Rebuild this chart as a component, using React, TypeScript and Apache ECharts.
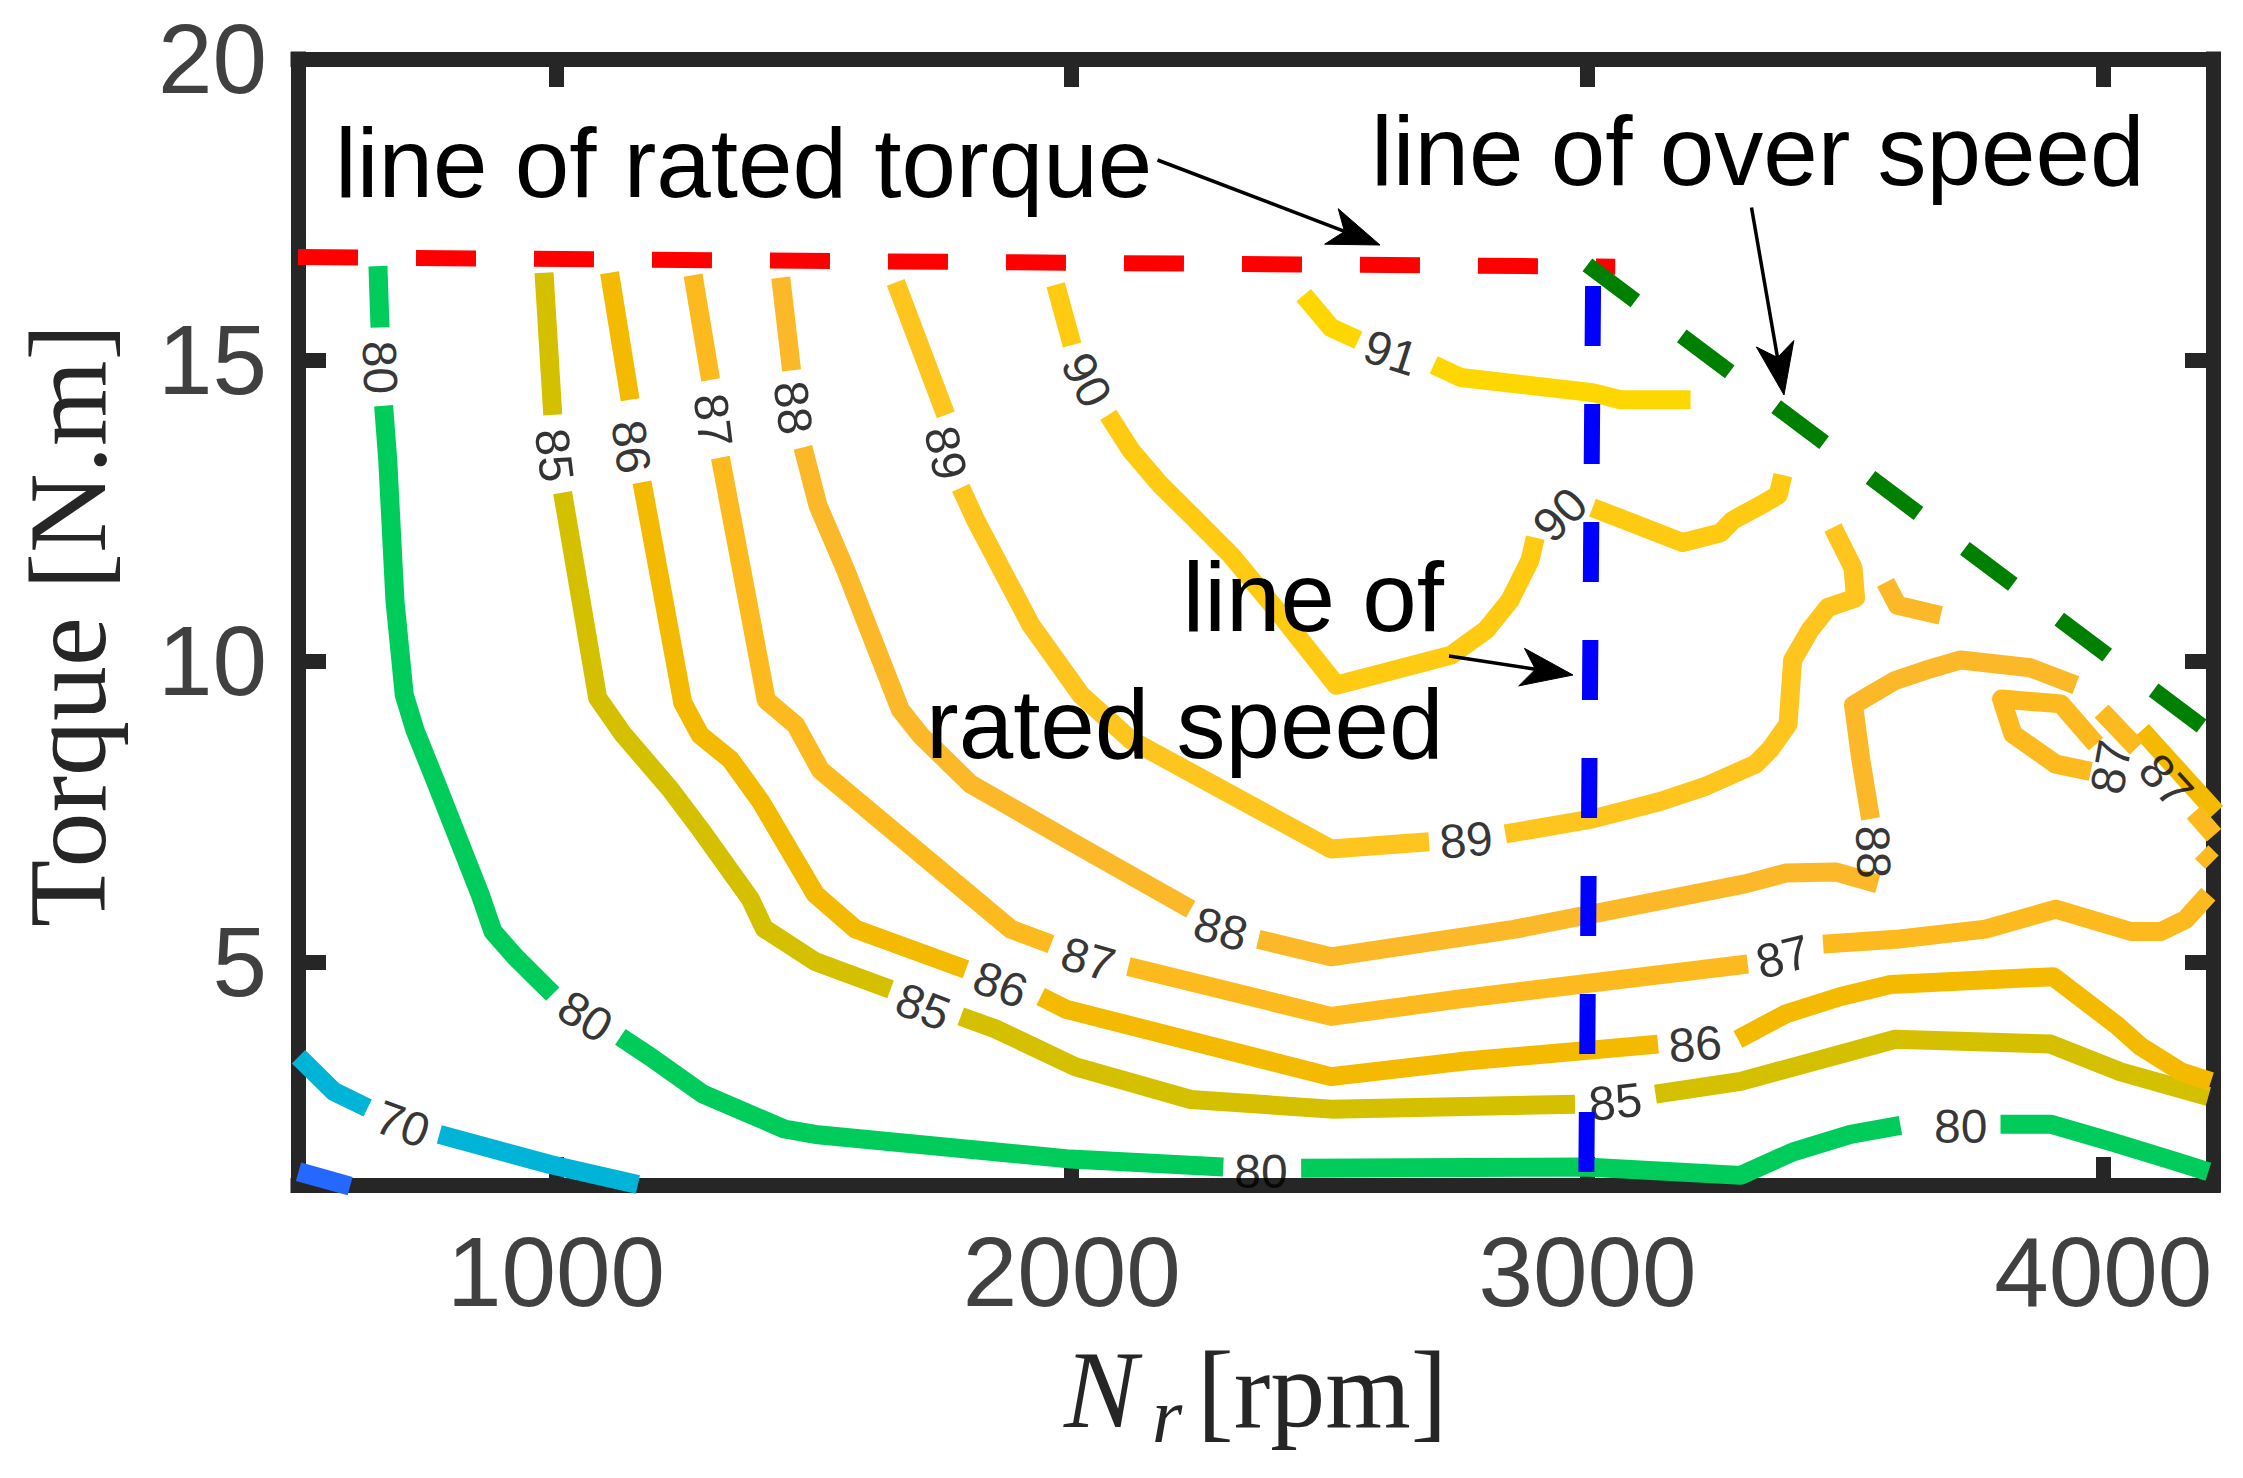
import React, { useEffect, useRef } from 'react';
import * as echarts from 'echarts';

// ---------- axes ----------
const X_MIN = 500;
const X_MAX = 4213;
const Y_MIN = 1.3;
const Y_MAX = 20;
const xTicks = [1000, 2000, 3000, 4000];
const yTicks = [5, 10, 15, 20];

// ---------- contour lines (rpm, torque); each inner array is one unbroken piece ----------
const c60 = [[[501, 1.52], [601, 1.28]]];
const c70 = [
  [[501, 3.43], [570, 2.85], [635, 2.58]],
  [[774, 2.14], [989, 1.64], [1159, 1.31]],
];
const c80 = [
  [[655, 16.56], [659, 15.54]],
  [[666, 14.24], [674, 13.34], [688, 11.0], [706, 9.44], [727, 8.85], [766, 8.02], [853, 6.13], [878, 5.51], [921, 5.09], [994, 4.47]],
  [[1125, 3.76], [1183, 3.43], [1285, 2.81], [1443, 2.23], [1503, 2.14], [1998, 1.73], [2294, 1.6]],
  [[2445, 1.58], [2996, 1.6], [3297, 1.46], [3399, 1.85], [3510, 2.14], [3607, 2.29]],
  [[3801, 2.31], [3898, 2.31], [4015, 2.02], [4141, 1.69], [4204, 1.52]],
];
const c85 = [
  [[977, 16.45], [994, 14.09]],
  [[1013, 12.8], [1081, 9.39], [1130, 8.79], [1222, 7.87], [1280, 7.21], [1377, 6.05], [1404, 5.56], [1503, 5.01], [1649, 4.55]],
  [[1785, 4.1], [1853, 3.89], [2008, 3.26], [2231, 2.72], [2503, 2.56], [2976, 2.64]],
  [[3132, 2.81], [3297, 3.02], [3597, 3.72], [3898, 3.64], [4034, 3.18], [4204, 2.77]],
];
const c86 = [
  [[1104, 16.45], [1144, 14.34]],
  [[1167, 12.97], [1246, 9.31], [1280, 8.77], [1338, 8.37], [1397, 7.67], [1503, 6.13], [1581, 5.55], [1795, 4.88]],
  [[1940, 4.43], [1989, 4.22], [2503, 3.1], [2753, 3.35], [3137, 3.64]],
  [[3292, 3.72], [3384, 4.14], [3491, 4.43], [3588, 4.63], [3903, 4.76], [4024, 3.97], [4073, 3.6], [4151, 3.18], [4209, 3.02]],
  [[4075, 8.85], [4219, 7.49]],
];
const c87 = [
  [[1266, 16.41], [1300, 14.67]],
  [[1319, 13.38], [1408, 9.35], [1465, 8.94], [1513, 8.19], [1882, 5.55], [1960, 5.3]],
  [[2110, 4.93], [2503, 4.1], [2753, 4.39], [3311, 4.97]],
  [[3457, 5.3], [3598, 5.38], [3772, 5.55], [3908, 5.88], [4054, 5.51], [4112, 5.51], [4160, 5.71], [4204, 6.13]],
  [[3986, 8.62], [3918, 9.29], [3803, 9.37], [3825, 8.79], [3908, 8.29], [3976, 8.17]],
  [[3997, 9.17], [4065, 8.56]],
  [[4176, 7.49], [4215, 7.11]],
  [[4191, 6.83], [4211, 6.66]],
];
const c88 = [
  [[1436, 16.37], [1457, 14.83]],
  [[1479, 13.55], [1508, 12.59], [1562, 11.51], [1668, 9.19], [1707, 8.77], [1804, 7.96], [2008, 6.96], [2231, 5.88]],
  [[2362, 5.38], [2503, 5.09], [2860, 5.55], [3306, 6.3], [3384, 6.48], [3481, 6.5], [3563, 6.3]],
  [[3549, 7.38], [3530, 8.37], [3516, 9.27], [3539, 9.39], [3597, 9.68], [3656, 9.85], [3724, 10.02], [3859, 9.89], [3947, 9.6]],
  [[3578, 11.31], [3601, 10.93], [3685, 10.76]],
];
const c89 = [
  [[1659, 16.29], [1756, 14.09]],
  [[1785, 12.88], [1814, 12.34], [1921, 10.6], [2018, 9.44], [2115, 8.69], [2503, 6.88], [2693, 7.0]],
  [[2841, 7.13], [3010, 7.38], [3141, 7.67], [3229, 7.92], [3326, 8.29], [3355, 8.54], [3389, 8.95], [3398, 10.02], [3432, 10.52], [3466, 10.89], [3520, 11.05], [3515, 11.55], [3476, 12.22]],
];
const c90 = [
  [[1969, 16.25], [2001, 15.25]],
  [[2071, 14.09], [2115, 13.5], [2173, 12.92], [2231, 12.43], [2309, 11.76], [2406, 10.76], [2513, 9.6], [2736, 10.1], [2804, 10.52], [2850, 11.01], [2889, 11.68], [2899, 12.05]],
  [[3010, 12.55], [3185, 11.97], [3258, 12.13], [3282, 12.34], [3336, 12.59], [3370, 12.76], [3379, 13.09]],
];
const c91 = [
  [[2450, 16.08], [2503, 15.54], [2556, 15.33]],
  [[2702, 14.92], [2755, 14.71], [3010, 14.46], [3064, 14.34], [3200, 14.34]],
];

// ---------- contour labels (rpm, torque, text angle in degrees) ----------
const l70 = [[703, 2.31, -20]];
const l80 = [[659, 14.88, -88], [1057, 4.1, -32], [2367, 1.52, 0], [3724, 2.27, 0]];
const l85 = [[997, 13.42, -83], [1712, 4.26, -21], [3054, 2.68, 6]];
const l86 = [[1146, 13.56, -82], [1862, 4.63, -20], [3209, 3.64, 4]];
const l87 = [[1305, 14.0, -83], [2032, 5.05, -16], [3379, 5.09, 14], [4015, 8.24, 80], [4122, 8.01, -48]];
const l88 = [[1460, 14.21, -83], [2289, 5.55, -15], [3554, 6.83, -88]];
const l89 = [[1756, 13.46, -78], [2765, 7.03, 5]];
const l90 = [[2029, 14.67, -63], [2947, 12.43, 45]];
const l91 = [[2619, 15.12, -18]];

// ---------- reference lines ----------
const ratedTorqueLine = [[500, 16.71], [3054, 16.55]];
const ratedSpeedLine = [[3011, 16.23], [2998, 1.5]];
const overSpeedLine = [[3000, 16.58], [4213, 8.78]];

const levels = [
  { level: 60, segs: c60, labels: [] as number[][] },
  { level: 70, segs: c70, labels: l70 },
  { level: 80, segs: c80, labels: l80 },
  { level: 85, segs: c85, labels: l85 },
  { level: 86, segs: c86, labels: l86 },
  { level: 87, segs: c87, labels: l87 },
  { level: 88, segs: c88, labels: l88 },
  { level: 89, segs: c89, labels: l89 },
  { level: 90, segs: c90, labels: l90 },
  { level: 91, segs: c91, labels: l91 },
];

const levelColors: Record<number, string> = {
  60: '#2468FF',
  70: '#00B4D8',
  80: '#00CC5C',
  85: '#D5C000',
  86: '#F3BA00',
  87: '#FDBA1E',
  88: '#FBB92A',
  89: '#FEC51F',
  90: '#FFCA12',
  91: '#FFD700',
};

const SANS = '"Liberation Sans", Arial, Helvetica, sans-serif';
const SERIF = '"Liberation Serif", "Times New Roman", serif';
const FRAME = '#262626';

function arrow(x0: number, y0: number, x1: number, y1: number) {
  const dx = x1 - x0;
  const dy = y1 - y0;
  const len = Math.hypot(dx, dy);
  const ux = dx / len;
  const uy = dy / len;
  const nx = -uy;
  const ny = ux;
  const headLen = 52;
  const halfW = 19;
  const notch = 38;
  const bx = x1 - ux * headLen;
  const by = y1 - uy * headLen;
  const qx = x1 - ux * notch;
  const qy = y1 - uy * notch;
  return [
    {
      type: 'line',
      shape: { x1: x0, y1: y0, x2: qx, y2: qy },
      style: { stroke: '#000', lineWidth: 3.5 },
      z: 10,
    },
    {
      type: 'polygon',
      shape: {
        points: [
          [x1, y1],
          [bx + nx * halfW, by + ny * halfW],
          [qx, qy],
          [bx - nx * halfW, by - ny * halfW],
        ],
      },
      style: { fill: '#000', stroke: '#000', lineWidth: 1 },
      z: 10,
    },
  ];
}

function txt(text: string, x: number, y: number, font: string, fill = '#000', rotation = 0, align = 'left') {
  return {
    type: 'text',
    x,
    y,
    rotation,
    z: 10,
    style: {
      text,
      x: 0,
      y: 0,
      font,
      fill,
      align,
      verticalAlign: 'middle',
      textAlign: align,
      textVerticalAlign: 'middle',
    },
  };
}

function buildOption() {
  const series: any[] = [];
  levels.forEach((lv) => {
    lv.segs.forEach((seg) => {
      series.push({
        type: 'line',
        data: seg,
        showSymbol: false,
        symbol: 'none',
        clip: false,
        silent: true,
        z: 3,
        lineStyle: { color: levelColors[lv.level], width: 19, cap: 'butt', join: 'round' },
      });
    });
    if (lv.labels.length) {
      series.push({
        type: 'scatter',
        data: lv.labels.map(([x, y, r]) => ({ value: [x, y], label: { rotate: r } })),
        symbolSize: 1,
        clip: false,
        silent: true,
        z: 6,
        itemStyle: { color: 'transparent' },
        label: {
          show: true,
          position: 'inside',
          formatter: String(lv.level),
          fontSize: 48,
          fontFamily: SANS,
          color: '#000000',
          textBorderWidth: 0,
          textBorderColor: 'transparent',
        },
      });
    }
  });

  const dashed = (data: number[][], color: string, z: number) => ({
    type: 'line',
    data,
    showSymbol: false,
    symbol: 'none',
    clip: false,
    silent: true,
    z,
    lineStyle: { color, width: 16, type: [60, 58], cap: 'butt' },
  });
  series.push(dashed(ratedTorqueLine, '#FF0000', 7));
  series.push(dashed(ratedSpeedLine, '#0000FF', 7));
  series.push(dashed(overSpeedLine, '#008000', 8));

  const axisLine = { show: true, onZero: false, lineStyle: { color: FRAME, width: 15, cap: 'square' } };
  const tickStyle = { color: FRAME, width: 15 };

  const tickFont = { fontSize: 98, color: '#404040', fontFamily: SANS, formatter: (v: number) => String(v) };

  const graphic: any[] = [
    txt('line of rated torque', 335, 163, `98px ${SANS}`),
    txt('line of over speed', 1371, 151, `98px ${SANS}`),
    txt('line of', 1182.5, 597, `98px ${SANS}`),
    txt('rated speed', 926, 723.5, `98px ${SANS}`),
    ...arrow(1157.5, 160, 1380, 245),
    ...arrow(1751.5, 207.5, 1784, 395),
    ...arrow(1449, 656, 1573, 675),
    txt('Torque [N.m]', 68, 625.5, `110px ${SERIF}`, FRAME, Math.PI / 2, 'center'),
    txt('N', 1064, 1389.5, `italic 110px ${SERIF}`, FRAME),
    txt('r', 1152, 1415, `italic 78px ${SERIF}`, FRAME),
    txt('[rpm]', 1197, 1389.5, `110px ${SERIF}`, FRAME),
  ];

  return {
    animation: false,
    backgroundColor: '#ffffff',
    grid: { left: 298, right: 30, top: 59, bottom: 293, containLabel: false },
    xAxis: [
      {
        type: 'value',
        min: X_MIN,
        max: X_MAX,
        position: 'bottom',
        axisLine,
        axisTick: { show: true, inside: true, length: 28, lineStyle: tickStyle, customValues: xTicks },
        axisLabel: { show: true, customValues: xTicks, margin: 38, ...tickFont },
        splitLine: { show: false },
      },
      {
        type: 'value',
        min: X_MIN,
        max: X_MAX,
        position: 'top',
        axisLine,
        axisTick: { show: true, inside: true, length: 28, lineStyle: tickStyle, customValues: xTicks },
        axisLabel: { show: false },
        splitLine: { show: false },
      },
    ],
    yAxis: [
      {
        type: 'value',
        min: Y_MIN,
        max: Y_MAX,
        position: 'left',
        axisLine,
        axisTick: { show: true, inside: true, length: 28, lineStyle: tickStyle, customValues: yTicks },
        axisLabel: { show: true, customValues: yTicks, margin: 31, ...tickFont },
        splitLine: { show: false },
      },
      {
        type: 'value',
        min: Y_MIN,
        max: Y_MAX,
        position: 'right',
        axisLine,
        axisTick: { show: true, inside: true, length: 28, lineStyle: tickStyle, customValues: yTicks },
        axisLabel: { show: false },
        splitLine: { show: false },
      },
    ],
    series,
    graphic,
  };
}

export default function App() {
  const ref = useRef<HTMLDivElement>(null);
  useEffect(() => {
    if (!ref.current) return;
    const chart = echarts.init(ref.current, null, { renderer: 'svg' });
    chart.setOption(buildOption() as any);
    return () => chart.dispose();
  }, []);
  return (
    <div
      ref={ref}
      style={{ position: 'absolute', left: 0, top: 0, width: 2243, height: 1478, background: '#fff' }}
    />
  );
}
